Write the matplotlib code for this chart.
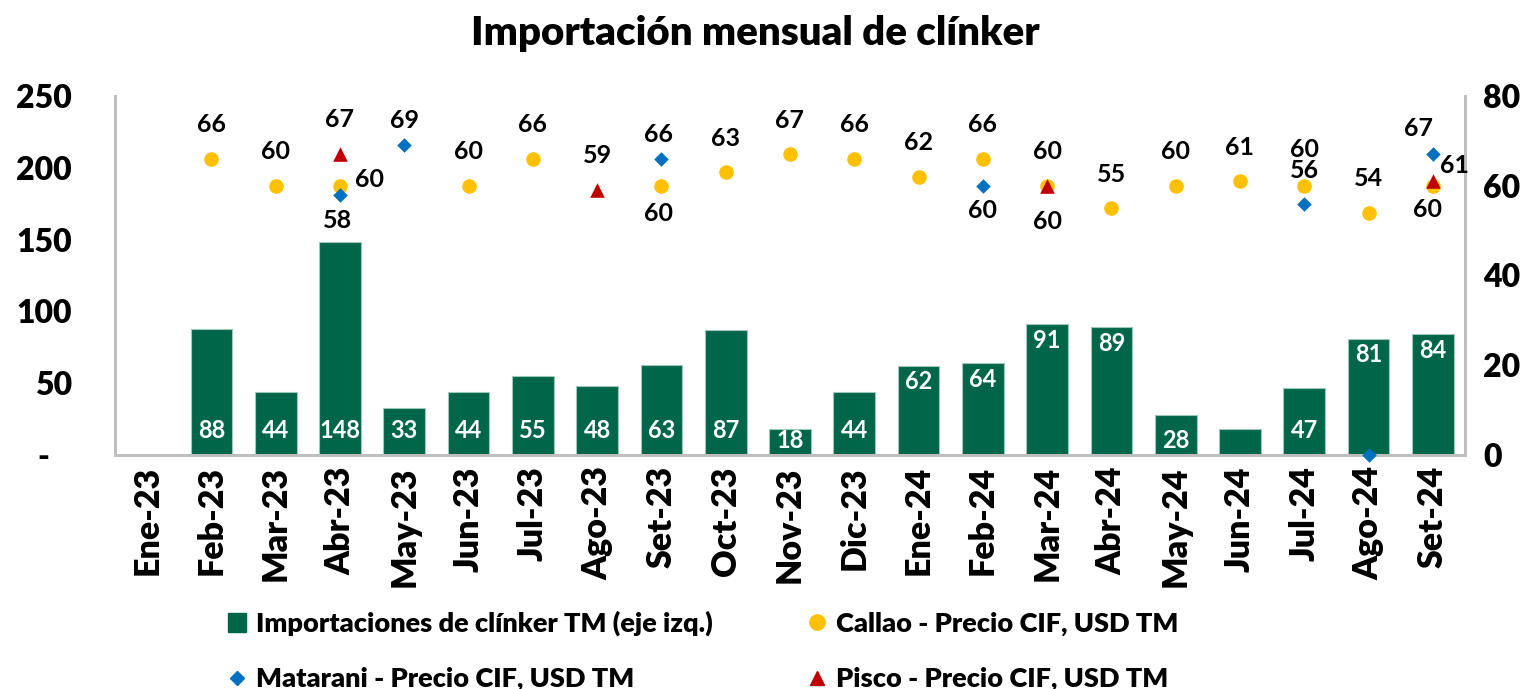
import numpy as np
import matplotlib
matplotlib.use("Agg")
import matplotlib.pyplot as plt
from matplotlib.lines import Line2D
from matplotlib.patches import Patch

plt.rcParams['font.family'] = ['Lato', 'DejaVu Sans']
plt.rcParams['font.weight'] = 'bold'

meses = ['Ene-23', 'Feb-23', 'Mar-23', 'Abr-23', 'May-23', 'Jun-23', 'Jul-23',
         'Ago-23', 'Set-23', 'Oct-23', 'Nov-23', 'Dic-23', 'Ene-24', 'Feb-24',
         'Mar-24', 'Abr-24', 'May-24', 'Jun-24', 'Jul-24', 'Ago-24', 'Set-24']
# importaciones (TM, eje izq.)
importaciones = [0, 88, 44, 148, 33, 44, 55, 48, 63, 87, 18, 44,
                 62, 64, 91, 89, 28, 18, 47, 81, 84]
# precios CIF USD/TM (eje der.), None = sin dato
callao = [None, 66, 60, 60, None, 60, 66, None, 60, 63, 67, 66,
          62, 66, 60, 55, 60, 61, 60, 54, 60]
matarani = [None, None, None, 58, 69, None, None, None, 66, None, None, None,
            None, 60, None, None, None, None, 56, 0, 67]
pisco = [None, None, None, 67, None, None, None, 59, None, None, None, None,
         None, None, 60, None, None, None, None, None, 61]

# donde va la etiqueta de cada barra: 'base', 'low', 'top' o ''
pos_barra = ['', 'base', 'base', 'base', 'base', 'base', 'base', 'base', 'base', 'base',
             'low', 'base', 'top', 'top', 'top', 'top', 'low', '', 'base', 'top', 'top']
# desplazamientos de etiquetas de precios (pixeles) que no van arriba
offs_callao = {3: (30, 6), 8: (-3, -28), 20: (-5, -24), 18: (0, 36)}
offs_matarani = {3: (-3, -26), 8: (-3, 24), 13: (0, -25), 18: (0, 33), 20: (-14, 26)}
offs_pisco = {14: (0, -36), 20: (22, 16)}

verde = '#00664A'
amarillo = '#FFC000'
azul = '#0070C0'
rojo = '#C00000'
gris = '#BFBFBF'

fig = plt.figure(figsize=(15.39, 6.89), dpi=100)
ax = fig.add_axes([115 / 1539, 1 - 455 / 689, 1350 / 1539, 359 / 689])
ax2 = ax.twinx()

x = np.arange(len(meses))
bars = ax.bar(x, importaciones, width=0.65, color=verde, edgecolor='#9CC9B8',
              linewidth=0.8, zorder=2)
ax.set_xlim(-0.5, len(meses) - 0.5)
ax.set_ylim(0, 250)
ax.set_yticks([0, 50, 100, 150, 200, 250])
ax.set_yticklabels(['-   ', '50', '100', '150', '200', '250'])
ax.set_xticks(x)
ax.set_xticklabels(meses, rotation=90)
ax.tick_params(axis='both', length=0, labelsize=23)
ax.tick_params(axis='x', labelsize=24.5, pad=8)
ax.tick_params(axis='y', pad=31)
for t in ax.get_xticklabels() + ax.get_yticklabels():
    t.set_fontweight('heavy')

for s in ['top']:
    ax.spines[s].set_visible(False)
    ax2.spines[s].set_visible(False)
for s in ['left', 'right', 'bottom']:
    ax.spines[s].set_color(gris)
    ax.spines[s].set_linewidth(2)
    ax2.spines[s].set_color(gris)
    ax2.spines[s].set_linewidth(2)

for i, b in enumerate(bars):
    v = importaciones[i]
    p = pos_barra[i]
    if p == '':
        continue
    if p == 'base':
        xy, off = (i, 0), 25
    elif p == 'low':
        xy, off = (i, 0), 14
    else:
        xy, off = (i, v), -16
    ax.annotate(str(v), xy=xy, xytext=(0, off), textcoords='offset pixels',
                ha='center', va='center', color='white', fontsize=17, zorder=5)


def serie(vals, color, marker, ms, offs, default):
    xs = [i for i, v in enumerate(vals) if v is not None]
    ys = [vals[i] for i in xs]
    ax2.scatter(xs, ys, color=color, marker=marker, s=ms, zorder=4, linewidths=0)
    for i, v in zip(xs, ys):
        if v == 0:
            continue
        dx, dy = offs.get(i, default)
        ax2.annotate(str(v), xy=(i, v), xytext=(dx, dy), textcoords='offset pixels',
                     ha='center', va='center', color='black', fontsize=18, zorder=6)


serie(callao, amarillo, 'o', 110, offs_callao, (0, 34))
serie(matarani, azul, 'D', 55, offs_matarani, (0, 25))
serie(pisco, rojo, '^', 110, offs_pisco, (0, 35))

ax2.set_ylim(0, 80)
ax2.set_yticks([0, 20, 40, 60, 80])
ax2.tick_params(axis='y', length=0, labelsize=23, pad=13)
for t in ax2.get_yticklabels():
    t.set_fontweight('heavy')
for c in ax2.collections:
    c.set_clip_on(False)

fig.suptitle('Importación mensual de clínker', x=0.491, y=0.978, fontsize=29,
             fontweight='heavy')

handles = [Patch(facecolor=verde, edgecolor=verde),
           Line2D([], [], color=azul, marker='D', linestyle='', markersize=7),
           Line2D([], [], color=amarillo, marker='o', linestyle='', markersize=11),
           Line2D([], [], color=rojo, marker='^', linestyle='', markersize=10)]
labels = ['Importaciones de clínker TM (eje izq.)',
          'Matarani - Precio CIF, USD TM',
          'Callao - Precio CIF, USD TM',
          'Pisco - Precio CIF, USD TM']
leg = fig.legend(handles, labels, ncol=2, loc='lower left', bbox_to_anchor=(0.132, -0.039),
                 frameon=False, fontsize=19.5, handlelength=0.7, handletextpad=0.35,
                 columnspacing=3.5, labelspacing=1.15)
for t in leg.get_texts():
    t.set_fontweight('heavy')

fig.savefig('out.png', dpi=100)
